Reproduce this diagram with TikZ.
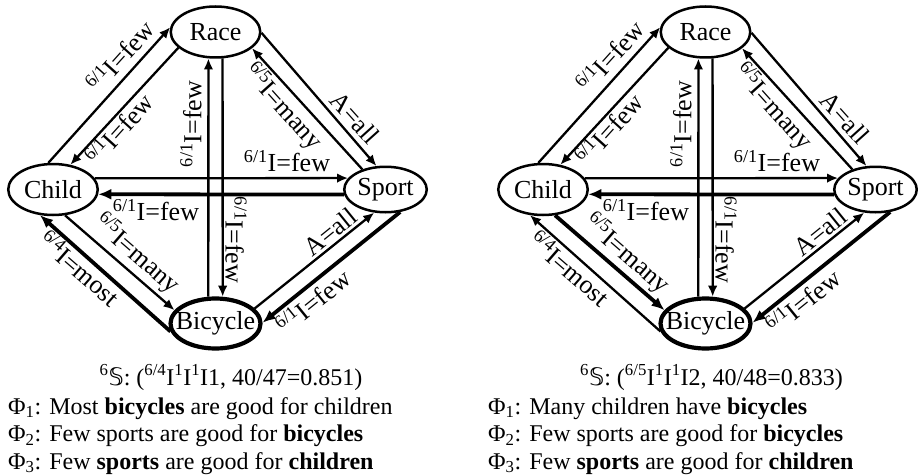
\documentclass[tikz,border=0pt]{standalone}
\usepackage{fontspec}
\setmainfont{Liberation Serif}
\newfontfamily\dsfont{DejaVu Sans}
\usetikzlibrary{shapes.geometric,arrows.meta}

% quantifier label: prescript ratio, then I=word
\newcommand\qlab[2]{\textsuperscript{#1}I=#2}
\newcommand\dsS{{\dsfont 𝕊}}

\tikzset{
  concept/.style={ellipse, draw, line width=2.5pt, inner sep=0pt,
    minimum width=89.5pt, minimum height=51pt, font=\fontsize{26}{30}\selectfont},
  sportell/.style={concept, minimum width=82.5pt, minimum height=45.5pt},
  focus/.style={concept, line width=4.2pt, minimum width=90pt, minimum height=50pt},
  rel/.style={line width=2.3pt, -{Latex[length=11pt,width=9.5pt]}},
  relhi/.style={line width=3.8pt, -{Latex[length=13pt,width=11pt]}},
  lab/.style={inner sep=0pt, font=\fontsize{26}{30}\selectfont},
  capt/.style={inner sep=0pt, font=\fontsize{24}{27}\selectfont},
}

\begin{document}
\begin{tikzpicture}[x=1pt,y=1pt]
\useasboundingbox (0,0) rectangle (918,475);

% ---------------- first graph ----------------
\node[concept]  (race)    at (215.5,443)   {\makebox[0pt]{Race}};
\node[concept]  (child)   at (53,285.5)    {\makebox[0pt]{Child}};
\node[sportell] (sport)   at (385.5,285.5) {\makebox[0pt]{Sport}};
\node[focus]    (bicycle) at (215.5,151.5) {\makebox[0pt]{Bicycle}};

\draw[rel]   (child.100)  -- (race.174);
\draw[rel]   (race.203)   -- (child.55);
\draw[rel]   (race.-1)    -- (sport.111);
\draw[rel]   (sport.139)  -- (race.-24);
\draw[rel]   (child.15)   -- (sport.163);
\draw[relhi] (sport.187)  -- (child.-6);
\draw[rel]   (bicycle.105) -- (race.255);
\draw[rel]   (race.285)   -- (bicycle.75);
\draw[rel]   (child.-65)  -- (bicycle.162);
\draw[relhi] (bicycle.190) -- (child.243);
\draw[rel]   (bicycle.21) -- (sport.244);
\draw[relhi] (sport.-57)  -- (bicycle.1);

\node[lab, rotate=48]  (l1)  at (120,419) {\qlab{6/1}{few}};
\node[lab, rotate=48]  (l2)  at (119,346) {\qlab{6/1}{few}};
\node[lab, rotate=90]  (l3)  at (191,351) {\qlab{6/1}{few}};
\node[lab, rotate=-90] (l4)  at (236,235) {\qlab{6/1}{few}};
\node[lab]             (l5)  at (287,314) {\qlab{6/1}{few}};
\node[lab]             (l6)  at (156,265) {\qlab{6/1}{few}};
\node[lab, rotate=-48] (l7)  at (283,368) {\qlab{6/5}{many}};
\node[lab, rotate=-48] (l8)  at (355,357) {A=all};
\node[lab, rotate=-41] (l9)  at (137,221) {\qlab{6/5}{many}};
\node[lab, rotate=-41] (l10) at (80,207)  {\qlab{6/4}{most}};
\node[lab, rotate=39]  (l11) at (330,243) {A=all};
\node[lab, rotate=39]  (l12) at (313,174) {\qlab{6/1}{few}};

\node[capt, anchor=base] (capl) at (231,90)
  {\textsuperscript{6}\dsS: (\textsuperscript{6/4}I\textsuperscript{1}I\textsuperscript{1}I1, 40/47=0.851)};
\node[capt, anchor=base west] (phil1) at (8,61)   {Φ\textsubscript{1}: Most \textbf{bicycles} are good for children};
\node[capt, anchor=base west] (phil2) at (8,33.5) {Φ\textsubscript{2}: Few sports are good for \textbf{bicycles}};
\node[capt, anchor=base west] (phil3) at (8,6)    {Φ\textsubscript{3}: Few \textbf{sports} are good for \textbf{children}};

% ---------------- second graph ----------------
\node[concept]  (race2)    at (705.5,443)   {\makebox[0pt]{Race}};
\node[concept]  (child2)   at (543,285.5)   {\makebox[0pt]{Child}};
\node[sportell] (sport2)   at (875.5,285.5) {\makebox[0pt]{Sport}};
\node[focus]    (bicycle2) at (705.5,151.5) {\makebox[0pt]{Bicycle}};

\draw[rel]   (child2.100)  -- (race2.174);
\draw[rel]   (race2.203)   -- (child2.55);
\draw[rel]   (race2.-1)    -- (sport2.111);
\draw[rel]   (sport2.139)  -- (race2.-24);
\draw[rel]   (child2.15)   -- (sport2.163);
\draw[relhi] (sport2.187)  -- (child2.-6);
\draw[rel]   (bicycle2.105) -- (race2.255);
\draw[rel]   (race2.285)   -- (bicycle2.75);
\draw[relhi] (child2.-65)  -- (bicycle2.162);
\draw[rel]   (bicycle2.190) -- (child2.243);
\draw[rel]   (bicycle2.21) -- (sport2.244);
\draw[relhi] (sport2.-57)  -- (bicycle2.1);

\node[lab, rotate=48]  (r1)  at (610,419) {\qlab{6/1}{few}};
\node[lab, rotate=48]  (r2)  at (609,346) {\qlab{6/1}{few}};
\node[lab, rotate=90]  (r3)  at (681,351) {\qlab{6/1}{few}};
\node[lab, rotate=-90] (r4)  at (726,235) {\qlab{6/1}{few}};
\node[lab]             (r5)  at (777,314) {\qlab{6/1}{few}};
\node[lab]             (r6)  at (646,265) {\qlab{6/1}{few}};
\node[lab, rotate=-48] (r7)  at (773,368) {\qlab{6/5}{many}};
\node[lab, rotate=-48] (r8)  at (845,357) {A=all};
\node[lab, rotate=-41] (r9)  at (627,221) {\qlab{6/5}{many}};
\node[lab, rotate=-41] (r10) at (570,207) {\qlab{6/4}{most}};
\node[lab, rotate=39]  (r11) at (820,243) {A=all};
\node[lab, rotate=39]  (r12) at (803,174) {\qlab{6/1}{few}};

\node[capt, anchor=base] (capr) at (711.5,90)
  {\textsuperscript{6}\dsS: (\textsuperscript{6/5}I\textsuperscript{1}I\textsuperscript{1}I2, 40/48=0.833)};
\node[capt, anchor=base west] (phir1) at (488,61)   {Φ\textsubscript{1}: Many children have \textbf{bicycles}};
\node[capt, anchor=base west] (phir2) at (488,33.5) {Φ\textsubscript{2}: Few sports are good for \textbf{bicycles}};
\node[capt, anchor=base west] (phir3) at (488,6)    {Φ\textsubscript{3}: Few \textbf{sports} are good for \textbf{children}};
\end{tikzpicture}
\end{document}
